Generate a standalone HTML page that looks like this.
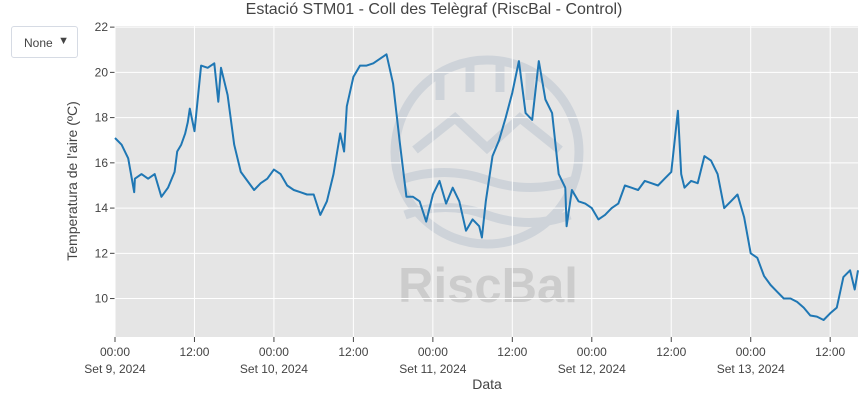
<!DOCTYPE html>
<html><head><meta charset="utf-8"><style>
body{margin:0;background:#fff;font-family:"Liberation Sans",sans-serif;}
#wrap{position:relative;width:868px;height:400px;overflow:hidden}
#dd{position:absolute;left:11px;top:26px;width:67px;height:32px;border:1px solid #d6dbe4;border-radius:3px;box-sizing:border-box;font-size:12px;color:#444;}
#dd span{position:absolute;left:12px;top:9px}
#dd i{position:absolute;right:8px;top:8px;font-style:normal;font-size:11px}
</style></head><body>
<div id="wrap">
<div id="dd"><span>None</span><i>▼</i></div>
<svg id="svg" width="868" height="400" style="position:absolute;left:0;top:0;pointer-events:none"></svg>
</div>
<script>
const hours=[0,1,2,2.9,3,4,5,6,7,8,9,9.4,10,10.6,11,11.3,12,13,14,15,15.6,16,17,18,19,20,21,22,23,24,25,26,27,28,29,30,31,32,33,34,34.6,35,36,37,38,39,40,41,42,43,44,45,46,47,48,49,50,51,52,53,54,55,55.4,56,57,58,59,60,61,62,63,64,65,66,67,68,68.2,69,70,71,72,73,74,75,76,77,78,79,80,81,82,83,84,85,85.5,86,87,88,89,90,91,92,93,94,95,96,97,98,99,100,101,102,103,104,105,106,107,108,109,110,111,111.7,112.2];
const temps=[17.1,16.8,16.2,14.7,15.3,15.5,15.3,15.5,14.5,14.9,15.6,16.5,16.8,17.3,17.8,18.4,17.4,20.3,20.2,20.4,18.7,20.2,19.0,16.8,15.6,15.2,14.8,15.1,15.3,15.7,15.5,15.0,14.8,14.7,14.6,14.6,13.7,14.3,15.5,17.3,16.5,18.5,19.8,20.3,20.3,20.4,20.6,20.8,19.5,16.9,14.5,14.5,14.3,13.4,14.6,15.2,14.2,14.9,14.3,13.0,13.5,13.2,12.7,14.3,16.3,17.0,18.0,19.1,20.5,18.2,17.9,20.5,18.8,18.2,15.5,14.9,13.2,14.8,14.3,14.2,14.0,13.5,13.7,14.0,14.2,15.0,14.9,14.8,15.2,15.1,15.0,15.3,15.6,18.3,15.5,14.9,15.2,15.1,16.3,16.1,15.5,14.0,14.3,14.6,13.6,12.0,11.8,11.0,10.6,10.3,10.0,10.0,9.85,9.6,9.25,9.2,9.05,9.35,9.6,10.95,11.25,10.4,11.25];
const yTicks=[10,12,14,16,18,20,22];
const xTickHours=[0,12,24,36,48,60,72,84,96,108];
const xTickTop=["00:00","12:00","00:00","12:00","00:00","12:00","00:00","12:00","00:00","12:00"];
const xTickBottom=["Set 9, 2024","","Set 10, 2024","","Set 11, 2024","","Set 12, 2024","","Set 13, 2024",""];
const L=115,R=858,T=26,B=337,XMAX=112.2,YMIN=8.3,YMAX=22.05;
const xs=h=>L+(h/XMAX)*(R-L);
const ys=v=>B-(v-YMIN)/(YMAX-YMIN)*(B-T);
const NS="http://www.w3.org/2000/svg",svg=document.getElementById('svg');
function mk(t,a,p){const e=document.createElementNS(NS,t);for(const k in a)e.setAttribute(k,a[k]);(p||svg).appendChild(e);return e;}
const bg=mk('rect',{x:L,y:T,width:R-L,height:B-T,fill:'#e5e5e5'});


const wm=mk('g',{opacity:0.5});


mk('circle',{cx:487,cy:152,r:92,fill:'none',stroke:'#b8c2cf','stroke-width':9},wm);
mk('path',{d:'M415 150 L455 118 L487 148 L520 118 L560 150 M400 180 Q445 165 487 180 Q530 195 575 180 M405 215 Q445 200 487 215 Q530 230 570 215 M440 100 V70 M470 92 V62 M500 92 V62 M530 100 V70',fill:'none',stroke:'#b8c2cf','stroke-width':9},wm);
const wt=mk('text',{x:488,y:302,'text-anchor':'middle','font-size':49,'font-weight':'bold',fill:'#b5b5b5','font-family':'Liberation Sans, sans-serif'},wm);
wt.textContent='RiscBal';
yTicks.forEach(v=>{
 const g=mk('line',{x1:L,x2:R,y1:ys(v),y2:ys(v),stroke:'#fff','stroke-width':1});
 
 
 mk('line',{x1:L-5,x2:L,y1:ys(v),y2:ys(v),stroke:'#444'});
 const t=mk('text',{x:L-7,y:ys(v)+4,'text-anchor':'end','font-size':12,fill:'#444'});
 t.textContent=v;
 
 
});
xTickHours.forEach((h,i)=>{
 const x=xs(h);
 const g=mk('line',{x1:x,x2:x,y1:T,y2:B,stroke:'#fff','stroke-width':1});
 
 
 mk('line',{x1:x,x2:x,y1:B,y2:B+5,stroke:'#444'});
 const t=mk('text',{x:x,y:356,'text-anchor':'middle','font-size':12,fill:'#444'});
 t.textContent=xTickTop[i];
 
 
 if(xTickBottom[i]){const t2=mk('text',{x:x,y:373,'text-anchor':'middle','font-size':12,fill:'#444'});t2.textContent=xTickBottom[i];
 
 }
});
const d=hours.map((h,i)=>(i?'L':'M')+xs(h).toFixed(1)+' '+ys(temps[i]).toFixed(1)).join(' ');
const line=mk('path',{d:d,fill:'none',stroke:'#1f77b4','stroke-width':2,'stroke-linejoin':'round'});


const ti=mk('text',{x:434,y:14,'text-anchor':'middle','font-size':16,fill:'#444'});
ti.textContent="Estació STM01 - Coll des Telègraf (RiscBal - Control)";


const yt=mk('text',{x:0,y:0,'text-anchor':'middle','font-size':14,fill:'#444',transform:'translate(77,181) rotate(-90)'});
yt.textContent="Temperatura de l'aire (ºC)";


const xt=mk('text',{x:487,y:389,'text-anchor':'middle','font-size':14,fill:'#444'});
xt.textContent="Data";


</script>
</body></html>
